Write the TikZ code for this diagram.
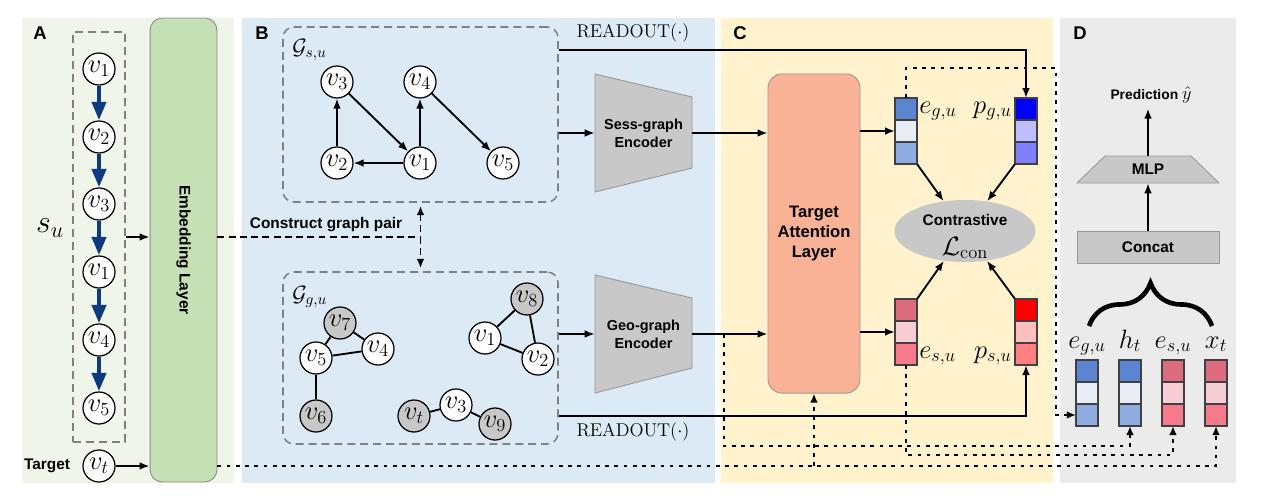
\documentclass[tikz,border=0pt]{standalone}
\usepackage{fontspec}
\setsansfont{Liberation Sans}
\usetikzlibrary{arrows.meta,positioning,shapes.geometric,decorations.pathreplacing}

\definecolor{bgA}{RGB}{239,245,232}
\definecolor{bgB}{RGB}{220,234,246}
\definecolor{bgC}{RGB}{255,242,204}
\definecolor{bgD}{RGB}{235,235,235}
\definecolor{embgreen}{RGB}{197,224,180}
\definecolor{attnsalmon}{RGB}{250,178,150}
\definecolor{boxgray}{RGB}{200,200,200}
\definecolor{seqblue}{RGB}{14,58,128}
\definecolor{egA}{RGB}{91,133,208}
\definecolor{egB}{RGB}{232,237,246}
\definecolor{egC}{RGB}{142,172,223}
\definecolor{esA}{RGB}{219,107,125}
\definecolor{esB}{RGB}{245,205,211}
\definecolor{esC}{RGB}{246,122,139}
\definecolor{pgA}{RGB}{0,0,255}
\definecolor{pgB}{RGB}{191,191,255}
\definecolor{pgC}{RGB}{128,128,255}
\definecolor{psA}{RGB}{255,0,0}
\definecolor{psB}{RGB}{255,191,191}
\definecolor{psC}{RGB}{255,128,128}

% three stacked cells: name, centre of top cell, colours
\newcommand{\featvec}[5]{%
  \node[cell, fill=#3] (#1t) at (#2) {};
  \node[cell, fill=#4, below=0pt of #1t] (#1m) {};
  \node[cell, fill=#5, below=0pt of #1m] (#1b) {};
}

\begin{document}
\begin{tikzpicture}[x=0.65pt, y=-0.65pt,
    vnode/.style={circle, draw, fill=white, line width=0.8pt, minimum size=20.8pt, inner sep=0pt, font=\LARGE},
    gnode/.style={vnode, fill=boxgray},
    cell/.style={rectangle, draw=black!75, line width=0.7pt, minimum size=14.3pt, inner sep=0pt, outer sep=0pt},
    lbl/.style={font=\sffamily\bfseries},
    flow/.style={line width=1.2pt, -{Latex[length=6.5pt,width=5pt]}},
    seqarrow/.style={seqblue, line width=2.8pt, -{Triangle[length=12pt,width=9pt]}},
    dotline/.style={line width=1.3pt, dash pattern=on 2.4pt off 3.6pt, -{Latex[length=6pt,width=5pt]}},
    grouped/.style={draw=black!50, line width=1pt, dash pattern=on 5.2pt off 3.2pt, rounded corners=7pt},
    encfill/.style={fill=boxgray, draw=black!40, line width=0.6pt}]
        \useasboundingbox (0,0) rectangle (1269,502);

        % panels
        \fill[bgA] (22,18) rectangle (234,483);
        \fill[bgB] (242,18) rectangle (715,483);
        \fill[bgC] (721,18) rectangle (1053,483);
        \fill[bgD] (1060,18) rectangle (1236,483);
        \node[font=\sffamily\bfseries\large] (labA) at (40,33) {A};
        \node[font=\sffamily\bfseries\large] (labB) at (262,33) {B};
        \node[font=\sffamily\bfseries\large] (labC) at (740,33) {C};
        \node[font=\sffamily\bfseries\large] (labD) at (1080,33) {D};

        % A: session sequence
        \node[draw=black!50, line width=1pt, dash pattern=on 5.2pt off 3.2pt, minimum width=33.8pt, minimum height=266.5pt] (seqbox) at (99,237) {};
        \node[vnode] (s1) at (99,69) {$v_1$};
        \node[vnode] (s2) at (99,137) {$v_2$};
        \node[vnode] (s3) at (99,204) {$v_3$};
        \node[vnode] (s4) at (99,272) {$v_1$};
        \node[vnode] (s5) at (99,340) {$v_4$};
        \node[vnode] (s6) at (99,408) {$v_5$};
        \draw[seqarrow] (s1) -- (s2);
        \draw[seqarrow] (s2) -- (s3);
        \draw[seqarrow] (s3) -- (s4);
        \draw[seqarrow] (s4) -- (s5);
        \draw[seqarrow] (s5) -- (s6);
        \node[font=\huge] (su) at (50,228) {$s_u$};
        \node[lbl] (target) at (47,466) {Target};
        \node[vnode] (vt) at (99,466) {$v_t$};

        \node[draw=black!45, line width=0.6pt, fill=embgreen, rounded corners=8pt, minimum width=43.5pt, minimum height=301.6pt,
              label={[lbl, rotate=-90]center:Embedding Layer}] (emb) at (183.5,250) {};
        \draw[flow] (seqbox.east) -- (emb.west |- seqbox.east);
        \draw[flow] (vt) -- (emb.west |- vt);

        % B: graph pair
        \node[grouped, minimum width=178.75pt, minimum height=113.75pt] (gs) at (420.5,114.5) {};
        \node[grouped, minimum width=178.75pt, minimum height=111.8pt] (gg) at (420.5,358) {};
        \node[font=\Large, anchor=west] (gslab) at (287,50) {$\mathcal{G}_{s,u}$};
        \node[font=\Large, anchor=west] (gglab) at (287,297) {$\mathcal{G}_{g,u}$};

        \node[vnode] (a3) at (337,82) {$v_3$};
        \node[vnode] (a4) at (420,82) {$v_4$};
        \node[vnode] (a2) at (337,163) {$v_2$};
        \node[vnode] (a1) at (420,163) {$v_1$};
        \node[vnode] (a5) at (503,163) {$v_5$};
        \draw[flow] (a2) -- (a3);
        \draw[flow] (a3) -- (a1);
        \draw[flow] (a1) -- (a2);
        \draw[flow] (a1) -- (a4);
        \draw[flow] (a4) -- (a5);

        \node[gnode] (b7) at (340,323) {$v_7$};
        \node[vnode] (b4) at (378,349) {$v_4$};
        \node[vnode] (b5) at (316,358) {$v_5$};
        \node[gnode] (b6) at (316,416) {$v_6$};
        \node[gnode] (b8) at (527,299) {$v_8$};
        \node[vnode] (b1) at (485,338) {$v_1$};
        \node[vnode] (b2) at (538,359) {$v_2$};
        \node[gnode] (bt) at (414,416) {$v_t$};
        \node[vnode] (b3) at (456,405) {$v_3$};
        \node[gnode] (b9) at (495,424) {$v_9$};
        \draw[line width=1.2pt] (b7) -- (b5);
        \draw[line width=1.2pt] (b7) -- (b4);
        \draw[line width=1.2pt] (b5) -- (b4);
        \draw[line width=1.2pt] (b5) -- (b6);
        \draw[line width=1.2pt] (b8) -- (b1);
        \draw[line width=1.2pt] (b8) -- (b2);
        \draw[line width=1.2pt] (b1) -- (b2);
        \draw[line width=1.2pt] (bt) -- (b3);
        \draw[line width=1.2pt] (b3) -- (b9);

        \draw[line width=1.2pt, dash pattern=on 4.5pt off 2.8pt] (emb.east |- seqbox.east) -- (gs.south |- seqbox.east);
        \draw[line width=1.2pt, dash pattern=on 4.5pt off 2.8pt, {Latex[length=6pt,width=5pt]}-{Latex[length=6pt,width=5pt]},
              shorten <=2pt, shorten >=2pt] (gs.south) -- (gg.north);
        \node[lbl] (pairlab) at (326,225) {Construct graph pair};

        % encoders
        \filldraw[encfill] (595,74) -- (692,97) -- (692,168) -- (595,192) -- cycle;
        \filldraw[encfill] (595,275) -- (692,298) -- (692,368) -- (595,393) -- cycle;
        \node[font=\sffamily\bfseries\fontsize{9.4}{11.5}\selectfont, align=center, minimum width=63pt, minimum height=76.7pt, inner sep=0pt] (sess) at (643.5,133) {Sess-graph\\Encoder};
        \node[font=\sffamily\bfseries\fontsize{9.4}{11.5}\selectfont, align=center, minimum width=63pt, minimum height=76.7pt, inner sep=0pt] (geo) at (643.5,334) {Geo-graph\\Encoder};
        \draw[flow] (gs.east |- sess) -- (sess.west);
        \draw[flow] (gg.east |- geo) -- (geo.west);
        \node[font=\large] (ro1) at (633,33) {$\mathrm{READOUT}(\cdot)$};
        \node[font=\large] (ro2) at (633,432) {$\mathrm{READOUT}(\cdot)$};

        % C: attention and contrast
        \node[draw=black!40, line width=0.6pt, fill=attnsalmon, rounded corners=9pt, minimum width=59.8pt, minimum height=207.4pt,
              align=center, font=\sffamily\bfseries\fontsize{10.8}{13}\selectfont] (tal) at (814,233.5) {Target\\Attention\\Layer};
        \draw[flow] (sess.east) -- (tal.west |- sess);
        \draw[flow] (geo.east) -- (tal.west |- geo);

        \featvec{eg}{906,109}{egA}{egB}{egC}
        \featvec{pg}{1026,109}{pgA}{pgB}{pgC}
        \featvec{es}{906,310}{esA}{esB}{esC}
        \featvec{ps}{1026,310}{psA}{psB}{psC}
        \node[font=\LARGE, anchor=base west, inner sep=0pt] (eglab) at (919,113) {$e_{g,u}$};
        \node[font=\LARGE, anchor=base east, inner sep=0pt] (pglab) at (1012,113) {$p_{g,u}$};
        \node[font=\LARGE, anchor=base west, inner sep=0pt] (eslab) at (919,358) {$e_{s,u}$};
        \node[font=\LARGE, anchor=base east, inner sep=0pt] (pslab) at (1012,358) {$p_{s,u}$};

        \node[ellipse, fill=boxgray, minimum width=91.7pt, minimum height=40.3pt, inner sep=0pt] (contr) at (965,231) {};
        \node[lbl, anchor=base, inner sep=0pt] (contrtxt) at (965,225) {Contrastive};
        \node[font=\LARGE, anchor=base, inner sep=0pt] (lcon) at (965,255) {$\mathcal{L}_{\mathrm{con}}$};
        \draw[flow] (tal.east |- egm) -- (egm.west);
        \draw[flow] (tal.east |- esm) -- (esm.west);
        \draw[flow] (egb.south east) -- (contr);
        \draw[flow] (pgb.south west) -- (contr);
        \draw[flow] (est.north east) -- (contr);
        \draw[flow] (pst.north west) -- (contr);

        \draw[flow] (gs.east |- gslab) -| (pgt.north);
        \draw[flow] (gg.east |- b6) -| (psb.south);

        % D: prediction
        \featvec{Deg}{1087,371}{egA}{egB}{egC}
        \featvec{Dht}{1130,371}{egA}{egB}{egC}
        \featvec{Des}{1173,371}{esA}{esB}{esC}
        \featvec{Dxt}{1216,371}{esA}{esB}{esC}
        \node[font=\LARGE, anchor=base, inner sep=0pt] (Deglab) at (1087,348) {$e_{g,u}$};
        \node[font=\LARGE, anchor=base, inner sep=0pt] (Dhtlab) at (1130,348) {$h_t$};
        \node[font=\LARGE, anchor=base, inner sep=0pt] (Deslab) at (1173,348) {$e_{s,u}$};
        \node[font=\LARGE, anchor=base, inner sep=0pt] (Dxtlab) at (1216,348) {$x_t$};

        \coordinate (brl) at (1089,326);
        \coordinate (brr) at (1212,326);
        \draw[decorate, decoration={brace, amplitude=28pt}, line width=3pt] (brl) -- (brr);

        \node[draw=black!40, line width=0.6pt, fill=boxgray, minimum width=92.3pt, minimum height=20.8pt, lbl] (concat) at (1148,247) {Concat};
        \filldraw[encfill] (1077,183) -- (1219,183) -- (1191,156) -- (1105,156) -- cycle;
        \node[lbl, minimum height=17.55pt, inner sep=0pt] (mlp) at (1148,169.5) {MLP};
        \node[font=\sffamily\bfseries\small] (pred) at (1151,95) {Prediction {\large$\hat{y}$}};
        \draw[flow] (concat) -- (mlp);
        \draw[flow] (mlp.north) -- (mlp.north |- pred.south);

        % dotted feeds into D
        \coordinate (dtop) at (1056,68);
        \coordinate (hsplit) at (724,334);
        \draw[dotline] (egt.north) |- (dtop) |- (Degb.west);
        \draw[dotline] (hsplit) -- ++(0,112) -| (Dhtb.south);
        \draw[dotline] (esb.south) -- ++(0,90) -| (Desb.south);
        \draw[dotline] (emb.east |- vt) -| (Dxtb.south);
        \draw[dotline] (tal.south |- vt) -- (tal.south);
    \end{tikzpicture}
\end{document}
